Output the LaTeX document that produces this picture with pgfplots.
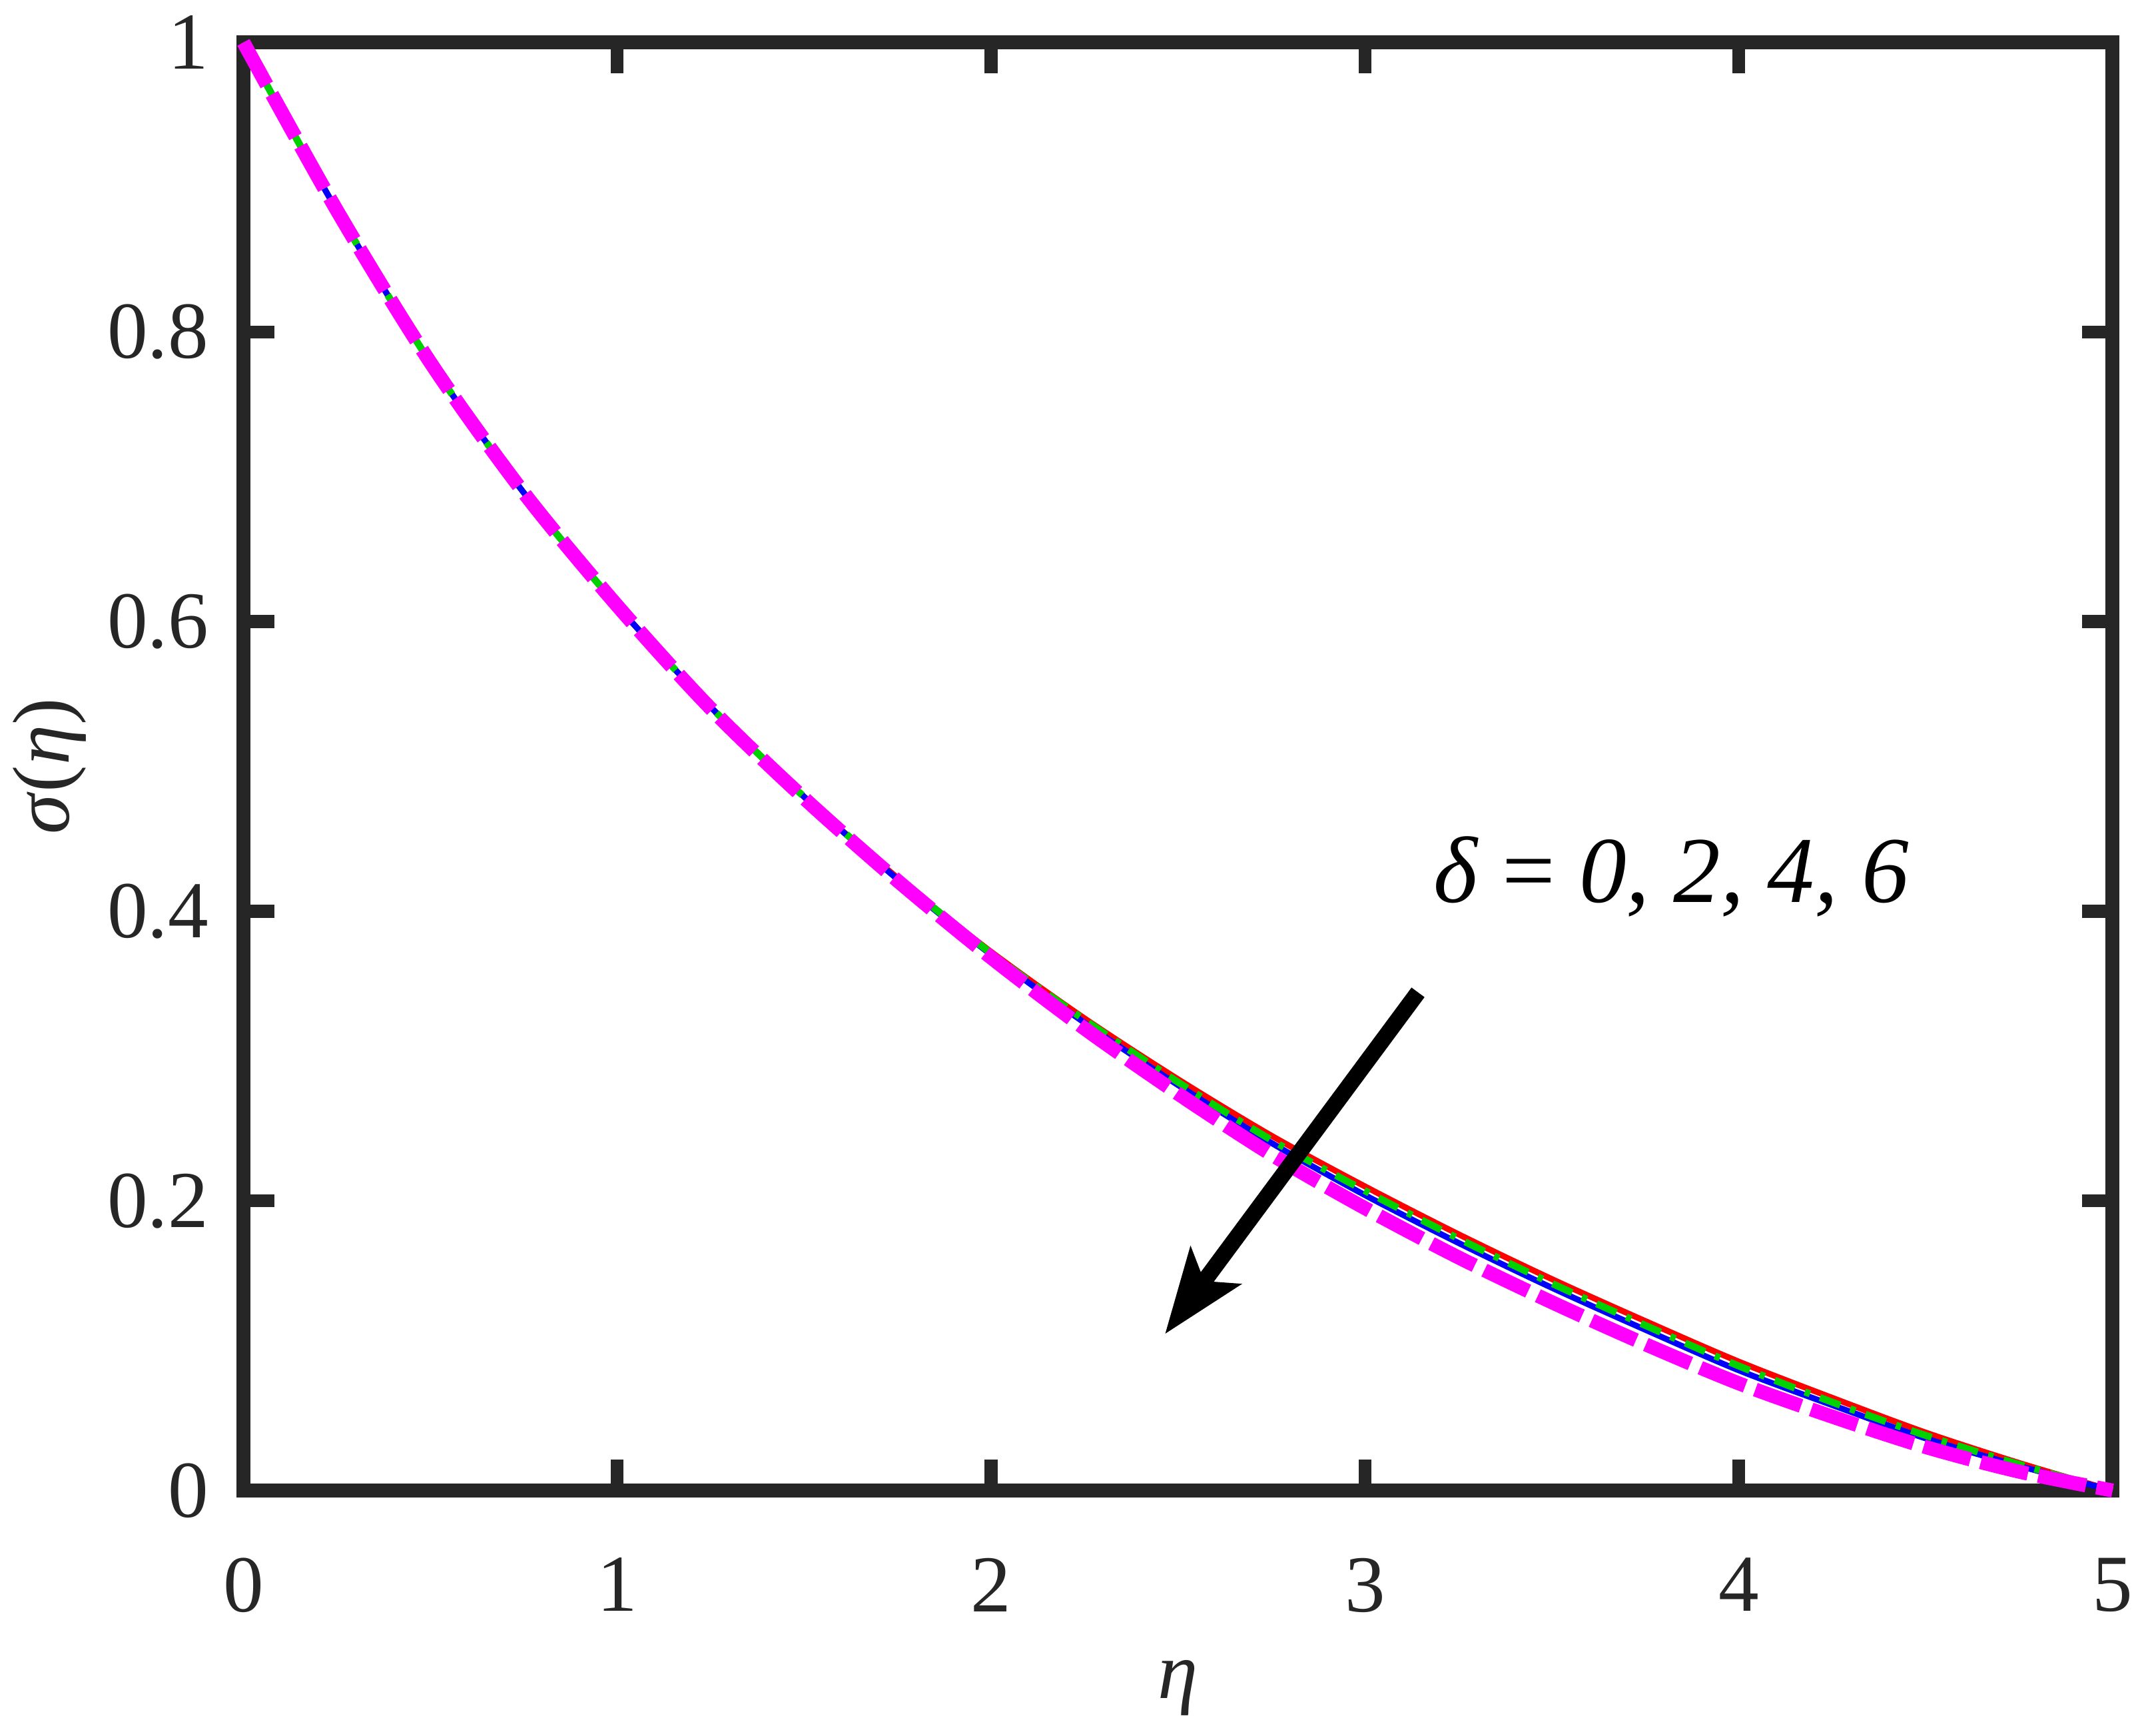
\documentclass[border=0pt]{standalone}
\usepackage{pgfplots}
\pgfplotsset{compat=1.18}
\usepackage{pgfplotstable}
\usepackage{fontspec}
\setmainfont{Liberation Serif}
\usetikzlibrary{arrows.meta}

\definecolor{axisgray}{RGB}{38,38,38}
\definecolor{mgreen}{RGB}{0,210,0}
\definecolor{mmagenta}{RGB}{255,0,255}

% eta, delta = 0, 2, 4, 6
\pgfplotstableread{
eta   s0     s2     s4     s6
0.00  1.000  1.000  1.000  1.000
0.25  0.884  0.884  0.884  0.884
0.50  0.779  0.779  0.779  0.779
0.75  0.689  0.689  0.689  0.689
1.00  0.611  0.611  0.611  0.611
1.25  0.541  0.541  0.541  0.540
1.50  0.479  0.479  0.479  0.478
1.75  0.423  0.423  0.422  0.421
2.00  0.372  0.371  0.370  0.368
2.25  0.326  0.325  0.323  0.319
2.50  0.284  0.282  0.280  0.274
2.75  0.245  0.242  0.240  0.232
3.00  0.210  0.207  0.204  0.195
3.25  0.177  0.174  0.171  0.161
3.50  0.146  0.143  0.140  0.130
3.75  0.117  0.114  0.111  0.101
4.00  0.089  0.086  0.083  0.074
4.25  0.064  0.061  0.059  0.051
4.50  0.040  0.038  0.036  0.030
4.75  0.019  0.018  0.017  0.013
5.00  0.000  0.000  0.000  0.000
}\sigmadata

\begin{document}
\begin{tikzpicture}
\begin{axis}[
    name=main,
    scale only axis,
    width=12.2cm, height=9.45cm,
    xmin=0, xmax=5, ymin=0, ymax=1,
    xtick={0,1,2,3,4,5},
    ytick={0,0.2,0.4,0.6,0.8,1},
    axis line style={axisgray, line width=2.6pt},
    tick style={axisgray, line width=2.4pt},
    major tick length=0.2cm,
    tick align=inside,
    ticklabel style={font=\fontsize{15}{17}\selectfont, text=black!85},
    /pgf/number format/assume math mode=true,
    xticklabel style={yshift=-9pt},
    yticklabel style={xshift=-3pt},
    xlabel={\textit{η}},
    ylabel={\textit{σ}(\textit{η})},
    label style={font=\fontsize{15}{18}\selectfont, text=black!85},
    xlabel style={yshift=-2pt},
    ylabel style={yshift=-3pt},
    clip=false,
]
\addplot[red, line width=1.1pt, smooth] table[x=eta, y=s0] {\sigmadata};
\addplot[blue, line width=1.1pt, smooth] table[x=eta, y=s4] {\sigmadata};
\addplot[mgreen, line width=1.3pt, smooth, dash pattern=on 4pt off 2pt on 1pt off 2pt] table[x=eta, y=s2] {\sigmadata};
\addplot[mmagenta, line width=2.6pt, smooth, dash pattern=on 9pt off 2pt] table[x=eta, y=s6] {\sigmadata};

\draw[black, line width=3pt, -{Stealth[length=0.55cm, width=0.4cm, inset=0.12cm]}]
    (axis cs:3.142,0.344) -- (axis cs:2.465,0.108);
\node[font=\fontsize{17.5}{20}\selectfont, anchor=center] at (axis cs:3.82,0.424)
    {\textit{δ} = \textit{0, 2, 4, 6}};
\end{axis}
\pgfresetboundingbox
\path[use as bounding box] ([xshift=-1.589cm, yshift=-1.599cm]main.south west)
    rectangle ([xshift=0.205cm, yshift=0.277cm]main.north east);
\end{tikzpicture}
\end{document}
